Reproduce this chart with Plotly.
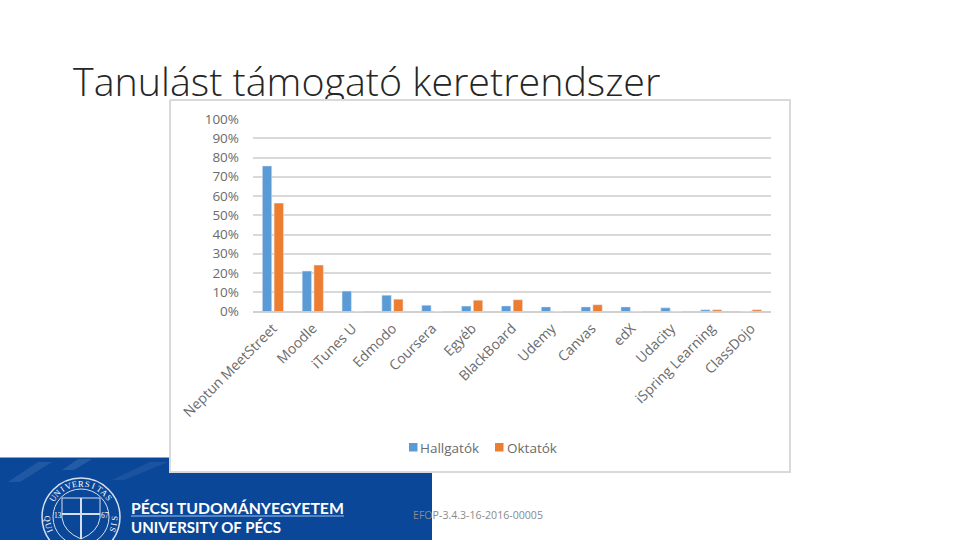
import math
import plotly.graph_objects as go

categories = ["Neptun MeetStreet", "Moodle", "iTunes U", "Edmodo", "Coursera", "Egyéb", "BlackBoard",
              "Udemy", "Canvas", "edX", "Udacity", "iSpring Learning", "ClassDojo"]
hallgatok = [75.6, 21.0, 10.6, 8.5, 3.3, 2.8, 2.9, 2.4, 2.4, 2.4, 1.9, 0.9, 0]
oktatok = [56.3, 24.1, 0, 6.4, 0, 5.9, 6.1, 0, 3.5, 0, 0, 0.9, 0.9]
series_names = ["Hallgatók", "Oktatók"]
series_colors = ["#5b9bd5", "#ed7d31"]
title_text = "Tanulást támogató keretrendszer"
footer_text = "EFOP-3.4.3-16-2016-00005"

W, H = 960, 540
GREY = "#6b6b6b"
NAVY = "#0b4798"
fig = go.Figure()

# page-level layer (pixel axes): title, then the white chart card that cuts off its descenders
fig.add_trace(go.Scatter(x=[73], y=[86.5], mode="text", text=[title_text], textposition="middle right",
                         textfont=dict(family="Open Sans", size=39.4, color="#262626", weight=300),
                         showlegend=False, hoverinfo="skip", cliponaxis=False, xaxis="x", yaxis="y"))
fig.add_trace(go.Scatter(x=[170, 790, 790, 170, 170], y=[100, 100, 472, 472, 100], mode="lines", fill="toself",
                         fillcolor="white", line=dict(color="#d9d9d9", width=2),
                         showlegend=False, hoverinfo="skip", xaxis="x", yaxis="y"))

fig.add_trace(go.Bar(name=series_names[0], x=categories, y=hallgatok, marker_color=series_colors[0],
                     xaxis="x2", yaxis="y2", showlegend=False))
fig.add_trace(go.Bar(name=series_names[1], x=categories, y=oktatok, marker_color=series_colors[1],
                     xaxis="x2", yaxis="y2", showlegend=False))

LINE = "#d5dfee"
shapes = [
    dict(type="rect", xref="x", yref="y", x0=0, x1=432, y0=457, y1=540, fillcolor=NAVY, line_width=0, layer="below"),
    dict(type="path", xref="x", yref="y", path="M8,482 L38,462 L52,462 L20,482 Z", fillcolor="#6f97cc", opacity=0.22, line_width=0, layer="below"),
    dict(type="path", xref="x", yref="y", path="M62,470 L78,459 L92,459 L74,470 Z", fillcolor="#6f97cc", opacity=0.25, line_width=0, layer="below"),
    dict(type="path", xref="x", yref="y", path="M112,480 L150,462 L168,462 L124,480 Z", fillcolor="#6f97cc", opacity=0.16, line_width=0, layer="below"),
    dict(type="line", xref="x", yref="y", x0=0, x1=170, y0=457.5, y1=457.5, line=dict(color="#7fa6d6", width=1), layer="below"),
    dict(type="line", xref="x", yref="y", x0=131, x1=344, y0=516, y1=516, line=dict(color="#9fc0ea", width=1), layer="below"),
    dict(type="circle", xref="x", yref="y", x0=42, x1=120, y0=478, y1=556, line=dict(color=LINE, width=1.5), layer="below"),
    dict(type="circle", xref="x", yref="y", x0=53, x1=109, y0=489, y1=545, line=dict(color=LINE, width=1), layer="below"),
    dict(type="path", xref="x", yref="y", path="M62,498 L100,498 L100,518 Q98,532 81,539 Q64,532 62,518 Z",
         line=dict(color=LINE, width=1), layer="below"),
    dict(type="line", xref="x", yref="y", x0=81, x1=81, y0=498, y1=539, line=dict(color=LINE, width=2), layer="below"),
    dict(type="line", xref="x", yref="y", x0=62, x1=100, y0=514, y1=514, line=dict(color=LINE, width=2), layer="below"),
]
# legend swatches
for sx, col in zip([409, 495], series_colors):
    shapes.append(dict(type="rect", xref="x", yref="y", x0=sx, x1=sx + 8.5, y0=443, y1=451.5, fillcolor=col,
                       line_width=0, layer="above"))

annotations = [
    dict(x=131, y=507, xref="x", yref="y", text="PÉCSI TUDOMÁNYEGYETEM", showarrow=False, xanchor="left", xshift=-2,
         font=dict(family="Lato", size=15.8, color="white", weight="bold")),
    dict(x=131, y=527, xref="x", yref="y", text="UNIVERSITY OF PÉCS", showarrow=False, xanchor="left", xshift=-2,
         font=dict(family="Lato", size=15, color="white", weight="bold")),
    dict(x=414, y=515, xref="x", yref="y", text=footer_text, showarrow=False, xanchor="left", xshift=-3,
         font=dict(family="Open Sans", size=10.6, color="#8a8a8a")),
    dict(x=58, y=515, xref="x", yref="y", text="13", showarrow=False, font=dict(family="Liberation Serif", size=7.5, color="white")),
    dict(x=105, y=515, xref="x", yref="y", text="67", showarrow=False, font=dict(family="Liberation Serif", size=7.5, color="white")),
]
for tx, name in zip([421, 508], series_names):
    annotations.append(dict(x=tx, y=447.5, xref="x", yref="y", text=name, showarrow=False, xanchor="left", xshift=-3,
                            font=dict(family="Open Sans", size=13.5, color=GREY)))
# seal lettering around the rim
cx, cy, r = 81, 517, 33.5
top = "UNIVERSITAS"
for i, ch in enumerate(top):
    a = -56 + i * 112 / (len(top) - 1)
    annotations.append(dict(x=cx + r * math.sin(math.radians(a)), y=cy - r * math.cos(math.radians(a)),
                            xref="x", yref="y", text=ch, textangle=a, showarrow=False,
                            font=dict(family="Liberation Serif", size=8.5, color="white")))
for ch, a in [("Q", -92), ("U", -104), ("I", -114), ("S", 92), ("I", 102), ("S", 112)]:
    annotations.append(dict(x=cx + r * math.sin(math.radians(a)), y=cy - r * math.cos(math.radians(a)),
                            xref="x", yref="y", text=ch, textangle=a + 180, showarrow=False,
                            font=dict(family="Liberation Serif", size=8.5, color="white")))

fig.update_layout(
    width=W, height=H, margin=dict(l=0, r=0, t=0, b=0, pad=0, autoexpand=False),
    paper_bgcolor="white", plot_bgcolor="rgba(0,0,0,0)",
    barmode="group", bargap=0.41, bargroupgap=0.2,
    shapes=shapes, annotations=annotations, showlegend=False,
    xaxis=dict(domain=[0, 1], range=[0, W], visible=False, fixedrange=True),
    yaxis=dict(domain=[0, 1], range=[H, 0], visible=False, fixedrange=True),
    xaxis2=dict(domain=[253 / W, 771 / W], anchor="y2", type="category", tickangle=-45, showgrid=False,
                showline=False, zeroline=False, ticks="", categoryorder="array", categoryarray=categories,
                ticklabelstandoff=5, tickfont=dict(family="Open Sans", size=14, color=GREY)),
    yaxis2=dict(domain=[(H - 311.5) / H, (H - 119) / H], anchor="x2", range=[0, 100], dtick=10, ticksuffix="%",
                gridcolor="#d9d9d9", gridwidth=2, zeroline=True, zerolinecolor="#d0d0d0", zerolinewidth=2,
                showline=False, ticks="", ticklabelstandoff=13,
                tickfont=dict(family="Open Sans", size=13.5, color=GREY)),
)
fig.write_html("out.html", config={"displayModeBar": False},
               post_script="document.body.style.margin='0';document.documentElement.style.overflow='hidden';")
